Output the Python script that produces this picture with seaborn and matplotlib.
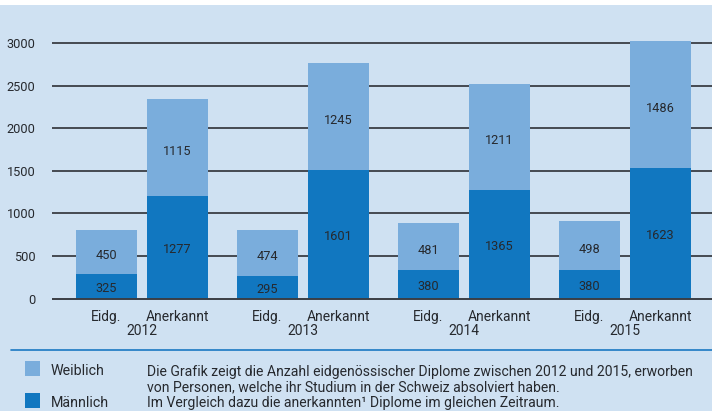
import matplotlib
matplotlib.use("Agg")
import matplotlib.pyplot as plt
from matplotlib.patches import Rectangle
from matplotlib.lines import Line2D
import seaborn as sns
import pandas as pd

# Daten (Balkenhoehen, Beschriftungen wie gedruckt)
years = ["2012", "2013", "2014", "2015"]
kinds = ["Eidg.", "Anerkannt"]
eidg_male = [290, 265, 335, 335]
eidg_female = [515, 535, 555, 570]
anerk_male = [1205, 1505, 1275, 1530]
anerk_female = [1135, 1265, 1240, 1490]
eidg_male_lbl = ["325", "295", "380", "380"]
eidg_female_lbl = ["450", "474", "481", "498"]
anerk_male_lbl = ["1277", "1601", "1365", "1623"]
anerk_female_lbl = ["1115", "1245", "1211", "1486"]
yticks = [0, 500, 1000, 1500, 2000, 2500, 3000]
legend_labels = ["Weiblich", "Männlich"]
note_lines = [
    "Die Grafik zeigt die Anzahl eidgenössischer Diplome zwischen 2012 und 2015, erworben",
    "von Personen, welche ihr Studium in der Schweiz absolviert haben.",
    "Im Vergleich dazu die anerkannten\u00b9 Diplome im gleichen Zeitraum.",
]

BG = "#cfe1f2"
LIGHT = "#7aaddc"
DARK = "#1177c0"
TXT = "#26292e"
GRID = "#3a3e45"

sns.set_theme(style="white")
plt.rcParams["font.family"] = ["Roboto", "DejaVu Sans"]

rows = []
for i, y in enumerate(years):
    rows.append({"year": y, "kind": "Eidg.", "male": eidg_male[i],
                 "total": eidg_male[i] + eidg_female[i]})
    rows.append({"year": y, "kind": "Anerkannt", "male": anerk_male[i],
                 "total": anerk_male[i] + anerk_female[i]})
df = pd.DataFrame(rows)

W, H = 712, 411
fig = plt.figure(figsize=(W / 100, H / 100), dpi=100, facecolor=BG)
fig.add_artist(Rectangle((0, 1 - 5 / H), 1, 5 / H, transform=fig.transFigure,
                         facecolor="white", edgecolor="none"))

ax = fig.add_axes([52 / W, (H - 299.8) / H, 660 / W, 269.6 / H])
ax.set_facecolor(BG)

sns.barplot(data=df, x="year", y="total", hue="kind", hue_order=kinds,
            palette=[LIGHT, LIGHT], width=0.882, gap=0.14, saturation=1,
            errorbar=None, legend=False, ax=ax, zorder=2, linewidth=0,
            edgecolor="none")
sns.barplot(data=df, x="year", y="male", hue="kind", hue_order=kinds,
            palette=[DARK, DARK], width=0.882, gap=0.14, saturation=1,
            errorbar=None, legend=False, ax=ax, zorder=2, linewidth=0,
            edgecolor="none")

ax.set_ylim(-15, 3150)
ax.set_xlim(-0.559, 3.54)
ax.set_yticks(yticks)
ax.set_yticklabels([str(t) for t in yticks], fontsize=9.2, color=TXT)
ax.tick_params(axis="y", length=0, pad=12)
ax.set_xticks([])
ax.set_xlabel("")
ax.set_ylabel("")
for s in ax.spines.values():
    s.set_visible(False)
for t in yticks[1:]:
    ax.axhline(t, color=GRID, lw=1.3, zorder=1)
ax.axhline(0, color=GRID, lw=1.4, zorder=3)

# Beschriftungen in den Balken
conts = ax.containers
male_lbls = [eidg_male_lbl, anerk_male_lbl]
fem_lbls = [eidg_female_lbl, anerk_female_lbl]
male_vals = [eidg_male, anerk_male]
fem_vals = [eidg_female, anerk_female]
xax = ax.get_xaxis_transform()
for k in range(2):
    for i, p in enumerate(conts[k].patches):
        xc = p.get_x() + p.get_width() / 2
        m, f = male_vals[k][i], fem_vals[k][i]
        ax.text(xc, m / 2 - 25, male_lbls[k][i], ha="center", va="center",
                fontsize=9.2, color=TXT, zorder=4)
        ax.text(xc, m + f / 2 - 45, fem_lbls[k][i], ha="center", va="center",
                fontsize=9.2, color=TXT, zorder=4)
        ax.text(xc, -(317 - 299.8) / 269.6, kinds[k], ha="center", va="center",
                fontsize=10, color=TXT, transform=xax)
for i, y in enumerate(years):
    ax.text(i, -(330.5 - 299.8) / 269.6, y, ha="center", va="center",
            fontsize=10, color=TXT, transform=xax)

# Trennlinie und Legende
fig.add_artist(Line2D([11 / W, 1], [(H - 350) / H] * 2, transform=fig.transFigure,
                      color="#1a78c2", lw=1.2))
for j, c in enumerate([LIGHT, DARK]):
    top = 361 + j * 32
    fig.add_artist(Rectangle((25 / W, (H - top - 15) / H), 15 / W, 15 / H,
                             transform=fig.transFigure, facecolor=c, edgecolor="none"))
    fig.text(51 / W, (H - top - 10) / H, legend_labels[j], ha="left", va="center",
             fontsize=10.3, color=TXT)
for j, line in enumerate(note_lines):
    fig.text(147 / W, (H - 372 - j * 15.5) / H, line, ha="left", va="center",
             fontsize=10.1, color=TXT)

fig.savefig("out.png", dpi=100, facecolor=BG)
